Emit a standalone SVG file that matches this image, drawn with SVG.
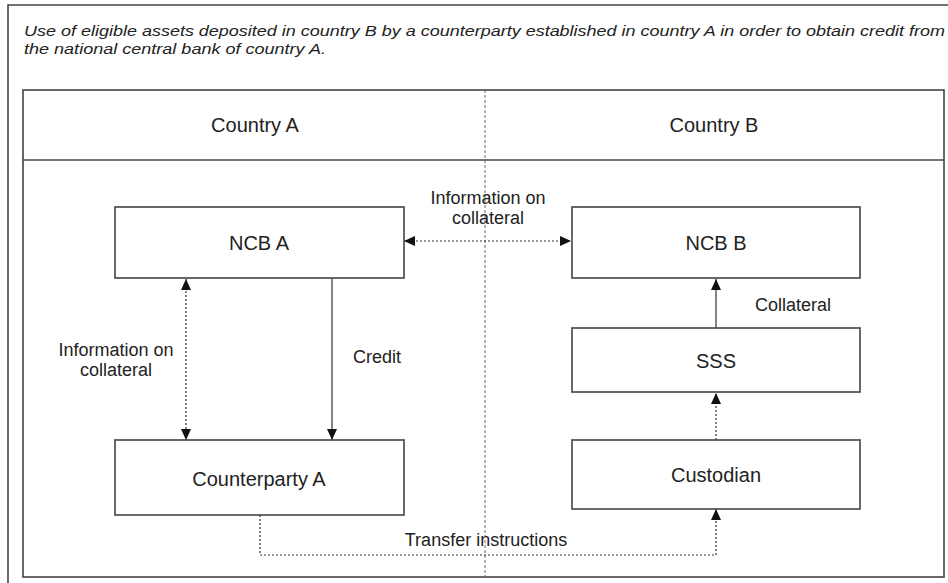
<svg xmlns="http://www.w3.org/2000/svg" width="948" height="583" viewBox="0 0 948 583">
<style>
.frame{fill:none;stroke:#444;stroke-width:1.6}
.box{fill:#fff;stroke:#444;stroke-width:1.6}
.lbl{font-family:"Liberation Sans",Arial,sans-serif;font-size:20px;fill:#222;text-anchor:middle}
.sm{font-family:"Liberation Sans",Arial,sans-serif;font-size:18px;fill:#222;text-anchor:middle}
.title{font-family:"Liberation Sans",Arial,sans-serif;font-size:15px;font-style:italic;fill:#222}
.dot{fill:none;stroke:#333;stroke-width:1.2;stroke-dasharray:2,2}
.solid{fill:none;stroke:#333;stroke-width:1.2}
.div{fill:none;stroke:#666;stroke-width:1;stroke-dasharray:3,2}
</style>
<defs>
<marker id="ah" markerUnits="userSpaceOnUse" markerWidth="12" markerHeight="10" refX="11" refY="5" orient="auto-start-reverse">
<path d="M0,0 L11,5 L0,10 z" fill="#111"/>
</marker>
</defs>
<rect width="948" height="583" fill="#fff"/>
<g id="outer-frame">
<path class="frame" d="M8,583 V5 H948"/>
</g>
<g id="title">
<text class="title" x="24" y="36" textLength="921" lengthAdjust="spacingAndGlyphs">Use of eligible assets deposited in country B by a counterparty established in country A in order to obtain credit from</text>
<text class="title" x="24" y="54" textLength="302" lengthAdjust="spacingAndGlyphs">the national central bank of country A.</text>
</g>
<g id="table">
<rect class="frame" x="23" y="90" width="921" height="487"/>
<line class="frame" x1="23" y1="160" x2="944" y2="160"/>
<line class="div" x1="485" y1="90" x2="485" y2="577"/>
<text class="lbl" x="255" y="132">Country A</text>
<text class="lbl" x="714" y="132">Country B</text>
</g>
<g id="connectors">
<line class="dot" x1="404" y1="241" x2="571" y2="241" marker-start="url(#ah)" marker-end="url(#ah)"/>
<line class="dot" x1="186" y1="279" x2="186" y2="440" marker-start="url(#ah)" marker-end="url(#ah)"/>
<line class="solid" x1="332" y1="278" x2="332" y2="440" marker-end="url(#ah)"/>
<line class="solid" x1="716" y1="328" x2="716" y2="279" marker-end="url(#ah)"/>
<line class="dot" x1="716" y1="440" x2="716" y2="393" marker-end="url(#ah)"/>
<path class="dot" d="M260,515 V555 H716 V509" marker-end="url(#ah)"/>
<text class="sm" x="488" y="204">Information on</text>
<text class="sm" x="488" y="224">collateral</text>
<text class="sm" x="116" y="356">Information on</text>
<text class="sm" x="116" y="376">collateral</text>
<text class="sm" x="377" y="363">Credit</text>
<text class="sm" x="793" y="311">Collateral</text>
<text class="sm" x="486" y="546">Transfer instructions</text>
</g>
<g id="ncb-a">
<rect class="box" x="115" y="207" width="289" height="71"/>
<text class="lbl" x="259" y="250">NCB A</text>
</g>
<g id="ncb-b">
<rect class="box" x="572" y="207" width="288" height="71"/>
<text class="lbl" x="716" y="250">NCB B</text>
</g>
<g id="sss">
<rect class="box" x="572" y="328" width="288" height="64"/>
<text class="lbl" x="716" y="368">SSS</text>
</g>
<g id="counterparty-a">
<rect class="box" x="115" y="440" width="289" height="75"/>
<text class="lbl" x="259" y="486">Counterparty A</text>
</g>
<g id="custodian">
<rect class="box" x="572" y="440" width="288" height="69"/>
<text class="lbl" x="716" y="482">Custodian</text>
</g>
</svg>
